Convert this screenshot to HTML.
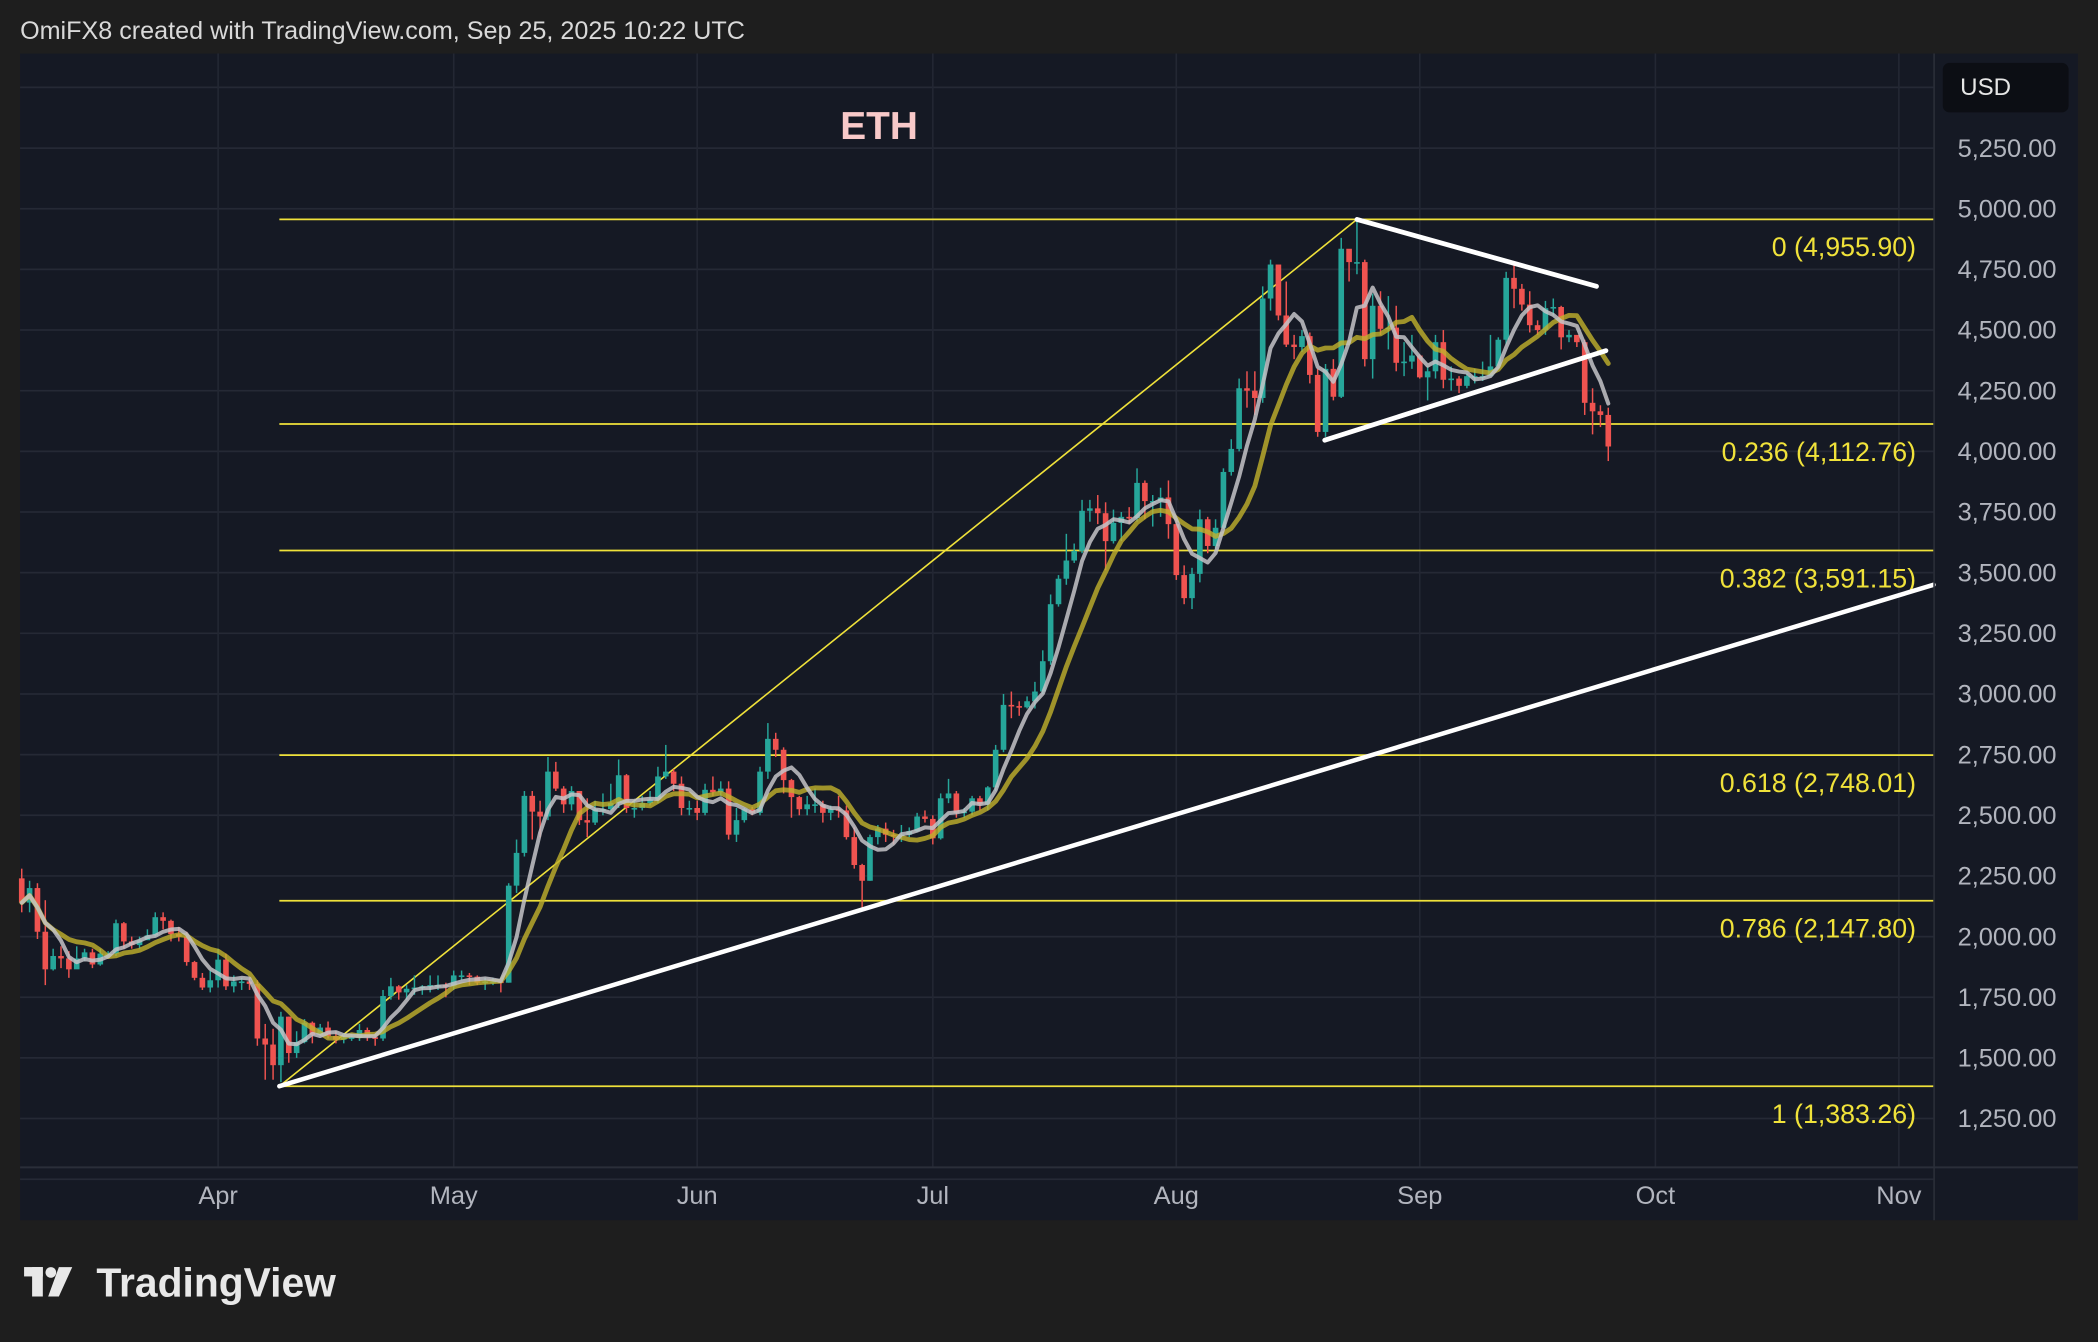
<!DOCTYPE html>
<html><head><meta charset="utf-8"><style>
html,body{margin:0;padding:0;background:#1e1e1e;width:2098px;height:1342px;overflow:hidden}
svg{display:block;font-family:"Liberation Sans",sans-serif}
</style></head><body>
<svg id="chart" width="2098" height="1342" viewBox="0 0 1568 1003" preserveAspectRatio="none" xmlns="http://www.w3.org/2000/svg">
<rect x="0" y="0" width="1568" height="1003" fill="#1e1e1e"/>
<text x="15" y="29" fill="#d9d9d9" font-size="18.8">OmiFX8 created with TradingView.com, Sep 25, 2025 10:22 UTC</text>
<rect x="15" y="40" width="1538" height="872" fill="#151924"/>
<g id="grid"></g>
<g id="fib"></g>
<g id="candles"></g>
<g id="mas"></g>
<g id="lines"></g>
<line x1="1445.5" y1="40" x2="1445.5" y2="912" stroke="#2a2e39" stroke-width="1.2"/>
<line x1="15" y1="872.5" x2="1553" y2="872.5" stroke="#2a2e39" stroke-width="1.5"/>
<g id="yaxis"></g>
<g id="xaxis"></g>
<rect x="1452" y="47" width="94" height="37" rx="5" fill="#0c0e14"/>
<text x="1465" y="71" fill="#e6e6e6" font-size="18">USD</text>
<text x="628" y="104" fill="#f8c9c9" font-size="29" font-weight="bold">ETH</text>
<g>
<rect x="18" y="947" width="14" height="7" fill="#e8e8e8"/>
<rect x="24" y="947" width="8" height="22" fill="#e8e8e8"/>
<circle cx="38" cy="951" r="4" fill="#e8e8e8"/>
<polygon points="44,947 54,947 44,969 36,969" fill="#e8e8e8"/>
<text x="72" y="969" fill="#e8e8e8" font-size="30.5" font-weight="bold">TradingView</text>
</g>
</svg>
<script>
const firstOpen = 2240;
const closes = [2140,2200,2020,1865,1920,1910,1865,1910,1935,1885,1930,1930,2055,1980,1965,1985,2005,2080,2065,2010,2000,1895,1830,1790,1820,
1905,1795,1815,1815,1805,1580,1555,1470,1670,1520,1565,1645,1595,1625,1590,1575,1585,1585,1615,1585,1580,1755,1795,1770,1785,1790,1795,1800,1800,1795,
1840,1840,1835,1810,1815,1815,1810,2210,2345,2580,2515,2495,2680,2610,2545,2600,2480,2470,2525,2525,2550,2665,2530,2530,2550,2565,2660,2680,2630,2530,2530,
2510,2605,2595,2610,2420,2480,2525,2510,2680,2815,2770,2645,2575,2525,2545,2545,2510,2525,2520,2410,2295,2230,2410,2445,2420,2415,2420,2435,2495,2485,
2405,2570,2590,2510,2515,2570,2545,2615,2770,2955,2950,2945,2970,3010,3135,3370,3475,3550,3590,3755,3765,3745,3630,3705,3730,3725,3870,3795,3795,3810,3700,
3490,3395,3495,3720,3610,3685,3915,4010,4260,4250,4220,4630,4770,4560,4440,4430,4475,4315,4080,4340,4225,4835,4780,4780,4380,4600,4505,4510,4365,4370,4395,
4305,4330,4450,4295,4300,4270,4310,4310,4310,4350,4460,4715,4670,4605,4520,4500,4590,4595,4470,4480,4450,4200,4165,4150,4020];
const highs = [2280,2230,2220,2150,1950,1960,1940,1960,1950,1950,1950,1940,2070,2060,2000,2000,2030,2100,2100,2070,2040,2020,1900,1850,1860,
1950,1930,1840,1830,1830,1820,1640,1620,1690,1670,1610,1660,1650,1640,1650,1610,1600,1600,1640,1625,1600,1780,1830,1800,1800,1840,1800,1840,1840,1810,
1860,1860,1850,1840,1830,1830,1820,2220,2400,2600,2600,2560,2740,2720,2620,2620,2600,2570,2560,2590,2630,2730,2670,2560,2580,2600,2700,2790,2690,2660,2560,
2560,2630,2660,2640,2640,2530,2530,2535,2700,2880,2840,2780,2650,2580,2580,2610,2560,2540,2580,2540,2450,2300,2420,2460,2470,2440,2460,2450,2510,2520,
2500,2590,2650,2600,2530,2580,2580,2620,2790,3000,3010,2970,2990,3050,3180,3410,3490,3660,3620,3800,3800,3820,3790,3760,3750,3770,3930,3880,3820,3850,3880,
3720,3530,3520,3760,3730,3720,3930,4050,4300,4330,4330,4680,4790,4700,4700,4480,4500,4490,4340,4360,4380,4880,4830,4950,4790,4650,4660,4640,4600,4450,4480,
4400,4350,4480,4500,4350,4310,4320,4340,4370,4480,4470,4740,4770,4690,4660,4540,4620,4630,4600,4500,4470,4460,4260,4190,4180];
const lows = [2100,2100,1990,1800,1860,1870,1830,1870,1900,1870,1880,1920,1920,1950,1950,1950,1990,2000,2030,1980,1980,1880,1820,1780,1770,
1790,1780,1770,1780,1780,1550,1410,1410,1400,1480,1500,1560,1560,1590,1580,1560,1560,1570,1570,1570,1550,1570,1740,1740,1740,1760,1760,1770,1780,1750,
1780,1820,1800,1800,1780,1800,1770,1810,2180,2330,2400,2410,2480,2600,2510,2520,2460,2410,2460,2500,2520,2530,2510,2490,2520,2540,2550,2650,2600,2500,2500,
2480,2500,2580,2580,2400,2390,2470,2500,2500,2650,2740,2590,2490,2500,2500,2510,2470,2480,2490,2400,2280,2110,2230,2380,2390,2380,2390,2410,2430,2470,
2380,2400,2550,2490,2490,2500,2520,2520,2600,2760,2900,2910,2940,2940,3000,3120,3360,3450,3540,3580,3710,3700,3510,3620,3630,3700,3710,3720,3690,3730,3640,
3470,3370,3350,3460,3580,3600,3680,3900,4000,4180,4150,4200,4580,4540,4430,4380,4410,4280,4060,4060,4210,4220,4700,4730,4350,4300,4480,4420,4330,4310,4340,
4300,4210,4300,4260,4250,4240,4260,4280,4290,4310,4340,4440,4590,4580,4490,4480,4480,4560,4420,4450,4430,4150,4070,4100,3960];
const firstDay = -25; // Mar 7 relative to Apr 1
const priceTicks = [5250,5000,4750,4500,4250,4000,3750,3500,3250,3000,2750,2500,2250,2000,1750,1500,1250];
const gridPrices = [5500,5250,5000,4750,4500,4250,4000,3750,3500,3250,3000,2750,2500,2250,2000,1750,1500,1250,1000];
const monthLabels = ["Apr","May","Jun","Jul","Aug","Sep","Oct","Nov"];
const monthDays = [0,30,61,91,122,153,183,214];
const fibRatios = ["0","0.236","0.382","0.618","0.786","1"];
const fibPrices = [4955.90,4112.76,3591.15,2748.01,2147.80,1383.26];
const fibStartDay = 7.8;
const swingLow = [7.8,1383.26];
const swingHigh = [145,4955.90];
const supportLine = [[7.8,1383.26],[218.4,3450]];
const triUpper = [[145,4955.90],[175.5,4680]];
const triLower = [[140.9,4046],[176.7,4415]];
const fastLen = 5, slowLen = 10;

const NS="http://www.w3.org/2000/svg";
const X = d => 163 + d*5.87;
const Y = p => 156 + (5000-p)*0.181333;
const fmt = v => v.toLocaleString("en-US",{minimumFractionDigits:2,maximumFractionDigits:2});
function mk(tag, attrs, parent){const e=document.createElementNS(NS,tag);for(const k in attrs)e.setAttribute(k,attrs[k]);parent.appendChild(e);return e;}

const grid=document.getElementById('grid');
gridPrices.forEach(p=>{const l=mk('line',{x1:15,x2:1445,y1:Y(p),y2:Y(p),stroke:'#252935','stroke-width':1.3},grid);

});
monthDays.forEach(d=>{const l=mk('line',{x1:X(d),x2:X(d),y1:40,y2:872,stroke:'#232733','stroke-width':1.2},grid);

});

const yaxis=document.getElementById('yaxis');
priceTicks.forEach(p=>{const t=mk('text',{x:1537,y:Y(p)+6.5,fill:'#b2b5be','font-size':19,'text-anchor':'end'},yaxis);t.textContent=fmt(p);

});
const xaxis=document.getElementById('xaxis');
monthLabels.forEach((m,i)=>{const t=mk('text',{x:X(monthDays[i]),y:900,fill:'#b2b5be','font-size':19,'text-anchor':'middle'},xaxis);t.textContent=m;

});

const fib=document.getElementById('fib');
fibPrices.forEach((p,i)=>{const l=mk('line',{x1:X(fibStartDay),x2:1445,y1:Y(p),y2:Y(p),stroke:'#efe13a','stroke-width':1.3},fib);


const t=mk('text',{x:1432,y:Y(p)+27.5,fill:'#f0e23a','font-size':20,'text-anchor':'end'},fib);t.textContent=fibRatios[i]+" ("+fmt(p)+")";

});
const diag=mk('line',{x1:X(swingLow[0]),y1:Y(swingLow[1]),x2:X(swingHigh[0]),y2:Y(swingHigh[1]),stroke:'#efe13a','stroke-width':1.2},fib);



const cg=document.getElementById('candles');
let prev=firstOpen;
closes.forEach((c,i)=>{const d=firstDay+i,x=X(d),o=prev,up=c>=o,col=up?'#26a69a':'#ef5350';
const w=mk('line',{x1:x,x2:x,y1:Y(highs[i]),y2:Y(lows[i]),stroke:col,'stroke-width':1.1},cg);


const top=Y(Math.max(o,c)),h=Math.max(1.2,Y(Math.min(o,c))-top);
const b=mk('rect',{x:x-2.1,y:top,width:4.2,height:h,fill:col},cg);


prev=c;});

function sma(n){return closes.map((_,i)=>{const s=closes.slice(Math.max(0,i-n+1),i+1);return s.reduce((a,b)=>a+b,0)/s.length;});}
const mg=document.getElementById('mas');
[[slowLen,'#c2b12c',3.6,0.8,'slow-moving-average'],[fastLen,'#c4c4c8',3,0.85,'fast-moving-average']].forEach(([n,col,wd,op,name])=>{
const pts=sma(n).map((v,i)=>X(firstDay+i).toFixed(1)+','+Y(v).toFixed(1)).join(' ');
const pl=mk('polyline',{points:pts,fill:'none',stroke:col,'stroke-width':wd,'stroke-opacity':op,'stroke-linejoin':'round','stroke-linecap':'round'},mg);

});

const lg=document.getElementById('lines');
[[supportLine,'support-trendline',3.4],[triUpper,'triangle-upper-line',3.6],[triLower,'triangle-lower-line',3.6]].forEach(([seg,name,wd])=>{
const l=mk('line',{x1:X(seg[0][0]),y1:Y(seg[0][1]),x2:Math.min(1445,X(seg[1][0])),y2:Y(seg[1][1]),stroke:'#ffffff','stroke-width':wd,'stroke-linecap':'round'},lg);

});
</script>
</body></html>
